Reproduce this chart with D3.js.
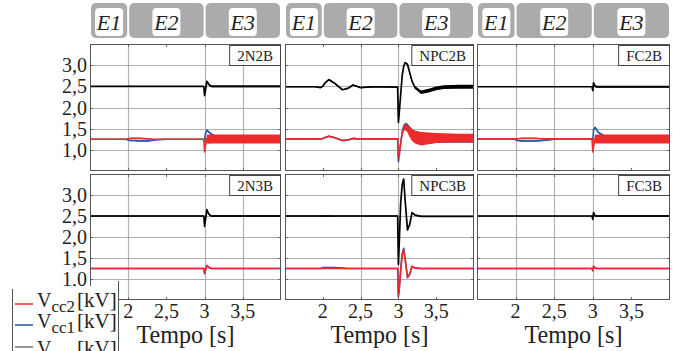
<!DOCTYPE html>
<html><head><meta charset="utf-8">
<script src="https://cdn.jsdelivr.net/npm/d3@7"></script>
<style>body{margin:0;background:#fff;} svg{display:block;} text{font-family:"Liberation Serif","Times New Roman","DejaVu Serif",serif;}</style>
</head><body>
<svg id="c" width="677" height="351"></svg>
<script>
// ---------- data ----------
const T = [1.5,1.9,1.97,2.0,2.03,2.08,2.15,2.26,2.33,2.4,2.5,2.58,2.7,2.99,3.0,3.01,3.03,3.05,3.07,3.09,3.12,3.15,3.18,3.22,3.3,3.4,3.5,3.6,3.8,4.0];
const xTicks = [2, 2.5, 3, 3.5];
const xTickLabels = ["2","2,5","3","3,5"];
const yTicks = [1.0, 1.5, 2.0, 2.5, 3.0];
const yTickLabels = ["1,0","1,5","2,0","2,5","3,0"];
const stageNames = ["E1","E2","E3"];
const stageStart = [1.5, 2, 3];
const stageEnd = [2, 3, 4];
const panelNames = ["2N2B","NPC2B","FC2B","2N3B","NPC3B","FC3B"];
const seriesNames = ["Vcc2","Vcc1","Vcc"];
const xLabel = "Tempo [s]";

// 2N2B
const tot_2N2B  = [2.5,2.5,2.5,2.5,2.5,2.5,2.5,2.5,2.5,2.5,2.5,2.5,2.5,2.5,2.28,2.4,2.62,2.56,2.52,2.5,2.5,2.5,2.5,2.5,2.5,2.5,2.5,2.5,2.5,2.5];
const totB_2N2B = [.01,.01,.01,.015,.015,.01,.01,.01,.01,.01,.01,.01,.01,.01,.01,.01,.015,.02,.022,.022,.022,.022,.022,.022,.022,.022,.022,.022,.022,.022];
const cc1_2N2B  = [1.25,1.25,1.25,1.23,1.22,1.22,1.21,1.21,1.23,1.24,1.25,1.25,1.25,1.25,1.2,1.38,1.46,1.43,1.4,1.37,1.34,1.31,1.29,1.27,1.26,1.25,1.25,1.25,1.25,1.25];
const cc1B_2N2B = [.006,.006,.006,.012,.015,.015,.015,.012,.008,.006,.006,.006,.006,.006,.01,.01,.02,.02,.02,.02,.02,.02,.02,.02,.02,.02,.02,.02,.02,.02];
const cc2_2N2B  = [1.25,1.25,1.25,1.26,1.27,1.27,1.27,1.26,1.25,1.25,1.25,1.25,1.25,1.25,0.95,1.1,1.26,1.255,1.255,1.255,1.255,1.255,1.255,1.255,1.255,1.255,1.255,1.255,1.255,1.255];
const cc2B_2N2B = [.006,.006,.006,.01,.015,.015,.015,.012,.008,.006,.006,.006,.006,.006,.01,.04,.1,.11,.11,.105,.105,.105,.105,.105,.105,.105,.105,.105,.105,.105];
// NPC2B
const tot_NPC2B  = [2.49,2.49,2.47,2.5,2.58,2.66,2.58,2.42,2.45,2.53,2.47,2.48,2.49,2.48,1.65,1.85,2.3,2.75,2.98,3.06,3.02,2.82,2.62,2.47,2.36,2.4,2.45,2.48,2.49,2.49];
const totB_NPC2B = [.012,.012,.012,.012,.012,.012,.012,.012,.012,.012,.012,.012,.012,.012,.012,.012,.012,.015,.015,.015,.02,.025,.03,.035,.04,.045,.045,.045,.045,.045];
const cc1_NPC2B  = [1.26,1.26,1.25,1.27,1.29,1.32,1.29,1.22,1.23,1.27,1.25,1.26,1.26,1.26,0.72,0.85,1.15,1.42,1.56,1.6,1.56,1.48,1.4,1.33,1.28,1.27,1.27,1.27,1.27,1.27];
const cc1B_NPC2B = [.012,.012,.012,.012,.012,.012,.012,.012,.012,.012,.012,.012,.012,.012,.01,.01,.02,.03,.03,.04,.06,.08,.1,.12,.13,.12,.11,.1,.1,.1];
const cc2_NPC2B  = [1.26,1.26,1.25,1.27,1.29,1.32,1.29,1.22,1.23,1.27,1.25,1.26,1.26,1.26,0.82,0.9,1.15,1.38,1.5,1.54,1.5,1.42,1.35,1.3,1.26,1.27,1.28,1.28,1.28,1.28];
const cc2B_NPC2B = [.01,.01,.01,.01,.01,.01,.01,.01,.01,.01,.01,.01,.01,.01,.01,.01,.03,.05,.06,.07,.09,.12,.14,.15,.16,.14,.12,.11,.1,.1];
// FC2B
const tot_FC2B  = [2.49,2.49,2.49,2.49,2.49,2.49,2.49,2.49,2.49,2.49,2.49,2.49,2.49,2.49,2.4,2.58,2.5,2.49,2.49,2.49,2.49,2.49,2.49,2.49,2.49,2.49,2.49,2.49,2.49,2.49];
const totB_FC2B = [.008,.008,.008,.008,.008,.008,.008,.008,.008,.008,.008,.008,.008,.008,.01,.01,.02,.022,.022,.022,.022,.022,.022,.022,.022,.022,.022,.022,.022,.022];
const cc1_FC2B  = [1.26,1.26,1.26,1.24,1.22,1.21,1.21,1.21,1.22,1.23,1.25,1.26,1.26,1.26,1.2,1.48,1.53,1.47,1.42,1.39,1.36,1.33,1.3,1.28,1.26,1.26,1.26,1.26,1.26,1.26];
const cc1B_FC2B = [.006,.006,.006,.012,.015,.015,.015,.015,.015,.012,.008,.006,.006,.006,.01,.01,.02,.02,.02,.02,.02,.02,.02,.02,.02,.02,.02,.02,.02,.02];
const cc2_FC2B  = [1.26,1.26,1.26,1.26,1.26,1.27,1.27,1.27,1.26,1.26,1.26,1.26,1.26,1.26,0.95,1.1,1.255,1.255,1.255,1.255,1.255,1.255,1.255,1.255,1.255,1.255,1.255,1.255,1.255,1.255];
const cc2B_FC2B = [.006,.006,.006,.008,.012,.014,.014,.014,.012,.01,.008,.006,.006,.006,.01,.05,.1,.105,.105,.105,.105,.105,.105,.105,.105,.105,.105,.105,.105,.105];
// 2N3B
const tot_2N3B  = [2.5,2.5,2.5,2.5,2.5,2.5,2.5,2.5,2.5,2.5,2.5,2.5,2.5,2.5,2.25,2.4,2.65,2.56,2.52,2.5,2.5,2.5,2.5,2.5,2.5,2.5,2.5,2.5,2.5,2.5];
const totB_2N3B = [.01,.01,.01,.02,.012,.01,.01,.01,.01,.01,.01,.01,.01,.01,.01,.01,.015,.018,.018,.018,.018,.018,.018,.018,.018,.018,.018,.018,.018,.018];
const cc1_2N3B  = [1.25,1.25,1.25,1.25,1.25,1.25,1.25,1.25,1.25,1.25,1.25,1.25,1.25,1.25,1.13,1.2,1.32,1.29,1.26,1.25,1.25,1.25,1.25,1.25,1.25,1.25,1.25,1.25,1.25,1.25];
const cc1B_2N3B = [.006,.006,.006,.012,.008,.006,.006,.006,.006,.006,.006,.006,.006,.006,.008,.008,.01,.012,.012,.012,.012,.012,.012,.012,.012,.012,.012,.012,.012,.012];
const cc2_2N3B  = [1.25,1.25,1.25,1.25,1.25,1.25,1.25,1.25,1.25,1.25,1.25,1.25,1.25,1.25,1.13,1.2,1.32,1.29,1.26,1.25,1.25,1.25,1.25,1.25,1.25,1.25,1.25,1.25,1.25,1.25];
const cc2B_2N3B = [.006,.006,.006,.012,.008,.006,.006,.006,.006,.006,.006,.006,.006,.006,.008,.008,.01,.012,.012,.012,.012,.012,.012,.012,.012,.012,.012,.012,.012,.012];
// NPC3B
const tot_NPC3B  = [2.5,2.5,2.5,2.5,2.5,2.5,2.5,2.5,2.5,2.5,2.5,2.5,2.5,2.5,1.35,1.8,2.8,3.25,3.38,2.85,2.17,2.3,2.58,2.52,2.49,2.49,2.49,2.49,2.49,2.49];
const totB_NPC3B = [.01,.01,.01,.02,.02,.015,.012,.01,.01,.01,.01,.01,.01,.01,.01,.01,.01,.01,.01,.01,.01,.01,.012,.015,.015,.015,.015,.015,.015,.015];
const cc1_NPC3B  = [1.25,1.25,1.25,1.27,1.27,1.27,1.27,1.26,1.25,1.25,1.25,1.25,1.25,1.25,0.58,0.72,1.2,1.6,1.73,1.47,1.03,1.11,1.3,1.26,1.25,1.25,1.25,1.25,1.25,1.25];
const cc1B_NPC3B = [.006,.006,.006,.008,.008,.008,.008,.006,.006,.006,.006,.006,.006,.006,.01,.01,.01,.01,.01,.01,.01,.01,.01,.01,.008,.008,.008,.008,.008,.008];
const cc2_NPC3B  = [1.25,1.25,1.25,1.25,1.25,1.25,1.25,1.25,1.25,1.25,1.25,1.25,1.25,1.25,0.62,0.75,1.2,1.57,1.7,1.45,1.05,1.12,1.3,1.26,1.25,1.25,1.25,1.25,1.25,1.25];
const cc2B_NPC3B = [.006,.006,.006,.006,.006,.006,.006,.006,.006,.006,.006,.006,.006,.006,.01,.01,.01,.01,.01,.01,.01,.01,.01,.01,.01,.01,.01,.01,.01,.01];
// FC3B
const tot_FC3B  = [2.5,2.5,2.5,2.5,2.5,2.5,2.5,2.5,2.5,2.5,2.5,2.5,2.5,2.5,2.42,2.58,2.5,2.5,2.5,2.5,2.5,2.5,2.5,2.5,2.5,2.5,2.5,2.5,2.5,2.5];
const totB_FC3B = [.006,.006,.006,.006,.006,.006,.006,.006,.006,.006,.006,.006,.006,.006,.01,.01,.018,.018,.018,.018,.018,.018,.018,.018,.018,.018,.018,.018,.018,.018];
const cc1_FC3B  = [1.25,1.25,1.25,1.25,1.25,1.25,1.25,1.25,1.25,1.25,1.25,1.25,1.25,1.25,1.2,1.3,1.26,1.25,1.25,1.25,1.25,1.25,1.25,1.25,1.25,1.25,1.25,1.25,1.25,1.25];
const cc1B_FC3B = [.006,.006,.006,.006,.006,.006,.006,.006,.006,.006,.006,.006,.006,.006,.008,.008,.01,.01,.01,.01,.01,.01,.01,.01,.01,.01,.01,.01,.01,.01];
const cc2_FC3B  = [1.25,1.25,1.25,1.25,1.25,1.25,1.25,1.25,1.25,1.25,1.25,1.25,1.25,1.25,1.2,1.3,1.26,1.25,1.25,1.25,1.25,1.25,1.25,1.25,1.25,1.25,1.25,1.25,1.25,1.25];
const cc2B_FC3B = [.006,.006,.006,.006,.006,.006,.006,.006,.006,.006,.006,.006,.006,.006,.008,.008,.01,.01,.01,.01,.01,.01,.01,.01,.01,.01,.01,.01,.01,.01];

// vertical grid lines visible per column
const gridX_col = [[2, 3, 3.5], [2.5, 3], [2, 2.5, 3]];

// ---------- build ----------
const panelData = {
  "2N2B": [tot_2N2B, totB_2N2B, cc1_2N2B, cc1B_2N2B, cc2_2N2B, cc2B_2N2B],
  "NPC2B": [tot_NPC2B, totB_NPC2B, cc1_NPC2B, cc1B_NPC2B, cc2_NPC2B, cc2B_NPC2B],
  "FC2B": [tot_FC2B, totB_FC2B, cc1_FC2B, cc1B_FC2B, cc2_FC2B, cc2B_FC2B],
  "2N3B": [tot_2N3B, totB_2N3B, cc1_2N3B, cc1B_2N3B, cc2_2N3B, cc2B_2N3B],
  "NPC3B": [tot_NPC3B, totB_NPC3B, cc1_NPC3B, cc1B_NPC3B, cc2_NPC3B, cc2B_NPC3B],
  "FC3B": [tot_FC3B, totB_FC3B, cc1_FC3B, cc1B_FC3B, cc2_FC3B, cc2B_FC3B]
};
const colX = [[90, 281], [285, 474], [477, 670]];
const rowY = [[44, 171], [174, 300]];
const RED = "#ee2b2b", BLUE = "#2456a8", BLACK = "#000";

const svg = d3.select("#c");
const defs = svg.append("defs");

function xScale(c) { return d3.scaleLinear().domain([1.5, 4.0]).range(colX[c]); }
function yScale(r) { return d3.scaleLinear().domain([0.5, 3.5]).range([rowY[r][1], rowY[r][0]]); }

// Header tabs
for (let c = 0; c < 3; c++) {
  const x = xScale(c);
  const hg = svg.append("g");
  stageNames.forEach((s, i) => {
    const x0 = x(stageStart[i]) + 1, x1 = Math.min(x(stageEnd[i]), colX[c][1]) - 1;
    hg.append("rect").attr("x", x0).attr("y", 3).attr("width", x1 - x0).attr("height", 35)
      .attr("rx", 5).attr("fill", "#ababab");
    const cx = (x0 + x1) / 2;
    hg.append("rect").attr("x", cx - 14).attr("y", 8).attr("width", 28).attr("height", 28)
      .attr("rx", 4).attr("fill", "#fff");
    hg.append("text").attr("x", cx).attr("y", 30).attr("text-anchor", "middle")
      .attr("font-style", "italic").attr("font-size", 22)
      .attr("fill", "#222").text(s);
  });
}

function drawSeries(g, x, y, vals, band, color, sw) {
  const data = T.map((t, i) => ({ t, v: vals[i], b: band[i] }));
  g.append("path").datum(data)
    .attr("d", d3.area().x(d => x(d.t)).y0(d => y(d.v - d.b)).y1(d => y(d.v + d.b)))
    .attr("fill", color);
  g.append("path").datum(data)
    .attr("d", d3.line().x(d => x(d.t)).y(d => y(d.v)))
    .attr("fill", "none").attr("stroke", color).attr("stroke-width", sw).attr("stroke-linejoin", "round");
}

panelNames.forEach((name, k) => {
  const r = Math.floor(k / 3), c = k % 3;
  const x = xScale(c), y = yScale(r);
  const [x0, x1] = colX[c], [y0, y1] = rowY[r];
  const g = svg.append("g");
  const cid = "clip" + k;
  defs.append("clipPath").attr("id", cid).append("rect")
    .attr("x", x0).attr("y", y0).attr("width", x1 - x0).attr("height", y1 - y0);

  // grid
  g.selectAll(".gx").data(gridX_col[c]).join("line")
    .attr("x1", d => Math.round(x(d)) + 0.5).attr("x2", d => Math.round(x(d)) + 0.5)
    .attr("y1", y0).attr("y2", y1).attr("stroke", "#b4b4b4").attr("stroke-width", 1.2);
  g.selectAll(".gy").data(yTicks).join("line")
    .attr("x1", x0).attr("x2", x1)
    .attr("y1", d => Math.round(y(d)) + 0.5).attr("y2", d => Math.round(y(d)) + 0.5)
    .attr("stroke", "#9a9a9a").attr("stroke-width", 0.8);
  // ticks
  xTicks.forEach(t => {
    const xx = Math.round(x(t)) + 0.5;
    g.append("line").attr("x1", xx).attr("x2", xx).attr("y1", y0).attr("y2", y0 + 3).attr("stroke", "#666");
    g.append("line").attr("x1", xx).attr("x2", xx).attr("y1", y1 - 3).attr("y2", y1).attr("stroke", "#666");
  });
  yTicks.forEach(v => {
    const yy = Math.round(y(v)) + 0.5;
    g.append("line").attr("x1", x0).attr("x2", x0 + 3).attr("y1", yy).attr("y2", yy).attr("stroke", "#666");
    g.append("line").attr("x1", x1 - 3).attr("x2", x1).attr("y1", yy).attr("y2", yy).attr("stroke", "#666");
  });

  // series
  const d = panelData[name];
  const sg = g.append("g").attr("clip-path", `url(#${cid})`);
  drawSeries(sg, x, y, d[0], d[1], BLACK, 1.7);
  drawSeries(sg, x, y, d[2], d[3], BLUE, 1.6);
  drawSeries(sg, x, y, d[4], d[5], RED, 1.6);

  // frame
  g.append("rect").attr("x", x0 + 0.5).attr("y", y0 + 0.5).attr("width", x1 - x0 - 1).attr("height", y1 - y0 - 1)
    .attr("fill", "none").attr("stroke", "#555").attr("stroke-width", 1);

  // label box
  const lt = g.append("text").attr("font-size", 15).attr("fill", "#222")
    .attr("text-anchor", "middle").text(name);
  const tw = lt.node().getComputedTextLength();
  const bw = tw + 16, bx = x1 - bw;
  g.insert("rect", "text").attr("x", bx + 0.5).attr("y", y0 + 1.5).attr("width", bw - 1).attr("height", 20)
    .attr("fill", "#fff").attr("stroke", "#444").attr("stroke-width", 1);
  lt.attr("x", bx + bw / 2).attr("y", y0 + 17);

  // y labels
  if (c === 0) {
    g.selectAll(".yl").data(yTicks).join("text")
      .attr("x", 87).attr("y", v => y(v) + 7).attr("text-anchor", "end")
      .attr("font-size", 20).attr("fill", "#222")
      .text((v, i) => yTickLabels[i]);
  }
  // x labels
  if (r === 1) {
    g.selectAll(".xl").data(xTicks).join("text")
      .attr("x", t => x(t)).attr("y", 318).attr("text-anchor", "middle")
      .attr("font-size", 20).attr("fill", "#222")
      .text((t, i) => xTickLabels[i]);
    g.append("text").attr("x", (x0 + x1) / 2).attr("y", 343).attr("text-anchor", "middle")
      .attr("font-size", 26).attr("fill", "#222")
      .attr("textLength", 98).attr("lengthAdjust", "spacingAndGlyphs").text(xLabel);
  }
});

// Legend
const lg = svg.append("g");
lg.append("rect").attr("x", 0).attr("y", 286).attr("width", 119).attr("height", 70).attr("fill", "#fff");
lg.append("line").attr("x1", 12.5).attr("x2", 12.5).attr("y1", 289).attr("y2", 351).attr("stroke", "#555");
lg.append("line").attr("x1", 118.5).attr("x2", 118.5).attr("y1", 281).attr("y2", 351).attr("stroke", "#555");
const legColors = [RED, BLUE, "#777"];
const legSubs = ["cc2", "cc1", "cc"];
const legLineY = [304, 325, 347];
const legTextY = [307, 328, 355];
legColors.forEach((col, i) => {
  const ly = legLineY[i];
  lg.append("line").attr("x1", 15).attr("x2", 33).attr("y1", ly).attr("y2", ly)
    .attr("stroke", col).attr("stroke-width", 1.5);
  const t = lg.append("text").attr("x", 37).attr("y", legTextY[i])
    .attr("font-size", 20).attr("fill", "#222");
  t.append("tspan").text("V");
  t.append("tspan").attr("font-size", 17).attr("dy", 5).text(legSubs[i]);
  t.append("tspan").attr("font-size", 21).attr("dy", -5).attr("x", 77).text("[kV]");
});
</script>
</body></html>
